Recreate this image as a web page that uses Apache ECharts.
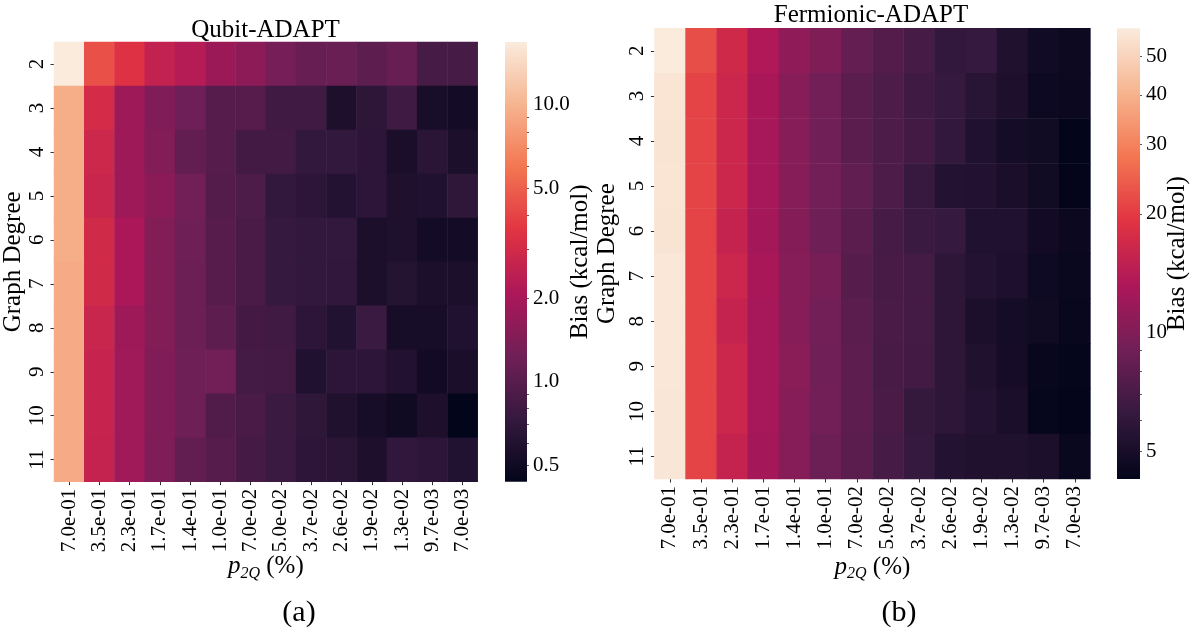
<!DOCTYPE html>
<html><head><meta charset="utf-8">
<script src="https://cdn.jsdelivr.net/npm/echarts@6/dist/echarts.min.js"></script>
<style>html,body{margin:0;padding:0;background:#fff}#c{width:1195px;height:631px}</style>
</head><body><div id="c"></div>
<script>
const FONT = "'Liberation Serif', 'Times New Roman', serif";

const pLabels = ['7.0e-01','3.5e-01','2.3e-01','1.7e-01','1.4e-01','1.0e-01','7.0e-02','5.0e-02','3.7e-02','2.6e-02','1.9e-02','1.3e-02','9.7e-03','7.0e-03'];
const degrees = ['2','3','4','5','6','7','8','9','10','11'];

// Qubit-ADAPT bias (kcal/mol), rows = graph degree 2..11, cols = p2Q
const qubitBias = [
  [16.88, 4.41, 3.41, 2.58, 2.27, 1.81, 1.58, 1.29, 1.14, 1.16, 1.05, 1.14, 0.85, 0.85],
  [9.5, 3.08, 1.82, 1.42, 1.23, 0.98, 0.99, 0.82, 0.82, 0.577, 0.68, 0.80, 0.548, 0.52],
  [9.5, 2.85, 1.82, 1.44, 1.09, 0.98, 0.83, 0.83, 0.71, 0.72, 0.67, 0.555, 0.66, 0.566],
  [9.5, 2.74, 1.83, 1.56, 1.27, 0.966, 0.92, 0.72, 0.67, 0.61, 0.67, 0.583, 0.597, 0.69],
  [9.5, 2.97, 2.05, 1.44, 1.21, 0.99, 0.873, 0.74, 0.71, 0.72, 0.561, 0.583, 0.52, 0.52],
  [9.27, 2.97, 2.05, 1.44, 1.19, 0.99, 0.89, 0.74, 0.71, 0.70, 0.561, 0.62, 0.56, 0.56],
  [9.27, 2.74, 1.83, 1.44, 1.19, 1.05, 0.835, 0.82, 0.67, 0.605, 0.776, 0.537, 0.537, 0.597],
  [9.27, 2.68, 1.87, 1.42, 1.22, 1.27, 0.84, 0.83, 0.597, 0.67, 0.67, 0.60, 0.515, 0.555],
  [9.27, 2.68, 1.87, 1.42, 1.22, 0.94, 0.89, 0.776, 0.69, 0.59, 0.537, 0.499, 0.577, 0.4355],
  [9.2, 2.63, 1.87, 1.40, 1.09, 0.98, 0.845, 0.776, 0.67, 0.66, 0.577, 0.70, 0.67, 0.605]
];

// Fermionic-ADAPT bias (kcal/mol)
const fermionicBias = [
  [59, 22.3, 16.8, 13.4, 10.9, 9.87, 8.38, 7.52, 6.91, 6.08, 6.21, 5.30, 4.77, 4.56],
  [56.8, 21.0, 16.3, 12.9, 10.35, 9.2, 7.9, 7.26, 6.6, 6.24, 5.63, 5.21, 4.62, 4.53],
  [56, 21.0, 16.3, 12.6, 10.35, 9.08, 7.9, 7.26, 6.73, 6.06, 5.34, 4.87, 4.73, 4.26],
  [56.8, 21.0, 16.3, 12.6, 10.35, 9.2, 8.22, 7.26, 6.28, 5.42, 5.38, 5.07, 4.73, 4.28],
  [56, 21.0, 15.5, 12.45, 10.23, 8.92, 7.85, 6.91, 6.45, 6.24, 5.34, 5.34, 4.81, 4.53],
  [57.5, 21.0, 16.3, 12.9, 10.35, 9.5, 7.66, 6.95, 6.82, 5.89, 5.42, 5.18, 4.66, 4.5],
  [57.5, 21.0, 15.5, 12.6, 10.35, 9.2, 7.85, 7.13, 6.82, 5.89, 5.14, 4.87, 4.68, 4.42],
  [57.5, 21.0, 16.3, 12.6, 10.6, 9.08, 8.0, 6.95, 6.75, 5.84, 5.3, 4.9, 4.46, 4.33],
  [57, 21.0, 16.3, 12.6, 10.35, 9.2, 8.0, 7.1, 6.15, 5.84, 5.42, 5.07, 4.35, 4.28],
  [57, 21.0, 15.5, 12.45, 10.35, 8.81, 7.9, 6.91, 6.24, 5.42, 5.3, 5.3, 5.1, 4.5]
];

const qubitCbarLabels = [0.5, 1, 2, 5, 10];
const qubitCbarMajor = [1, 10];
const qubitCbarMinor = [0.5, 0.6, 0.7, 0.8, 0.9, 2, 3, 4, 5, 6, 7, 8, 9];
const fermCbarLabels = [5, 10, 20, 30, 40, 50];
const fermCbarMajor = [10];
const fermCbarMinor = [5, 6, 7, 8, 9, 20, 30, 40, 50];

const rocket = ['#03051a','#35193e','#701f57','#ad1759','#e13342','#f37651','#f6b48f','#faebdd'];

const panels = [
  { title: 'Qubit-ADAPT', data: qubitBias, labels: qubitCbarLabels, major: qubitCbarMajor, minor: qubitCbarMinor,
    fmt: v => Math.pow(10, v).toFixed(1),
    heat: { left: 53.3, top: 42, width: 424.4, height: 439.7 },
    cbar: { left: 505, top: 42, width: 22, height: 439.7 },
    titleX: 265.5, titleY: 30, yNameGap: 28, cNameGap: 41, xNameGap: 70, sub: '(a)', subX: 299 },
  { title: 'Fermionic-ADAPT', data: fermionicBias, labels: fermCbarLabels, major: fermCbarMajor, minor: fermCbarMinor,
    fmt: v => String(Math.round(Math.pow(10, v))),
    heat: { left: 654.4, top: 28.3, width: 436, height: 450.7 },
    cbar: { left: 1117, top: 28.3, width: 23, height: 450.7 },
    titleX: 871, titleY: 15, yNameGap: 34, cNameGap: 25, xNameGap: 73, sub: '(b)', subX: 899 }
];

const option = { animation: false, grid: [], xAxis: [], yAxis: [], series: [], visualMap: [], graphic: [] };

const gradStops = rocket.map((c, i) => ({ offset: i / (rocket.length - 1), color: c }));

panels.forEach((p, k) => {
  const flat = p.data.flat();
  const vmin = Math.min(...flat), vmax = Math.max(...flat);
  const lmin = Math.log10(vmin), lmax = Math.log10(vmax);
  const gH = option.grid.length;
  option.grid.push(Object.assign({ containLabel: false }, p.heat));
  const gC = option.grid.length;
  option.grid.push(Object.assign({ containLabel: false }, p.cbar));

  const xH = option.xAxis.length;
  option.xAxis.push({
    type: 'category', gridIndex: gH, data: pLabels,
    axisLine: { show: false },
    axisTick: { show: true, alignWithLabel: true, length: 3.5, lineStyle: { color: '#333', width: 1 } },
    axisLabel: { interval: 0, rotate: 90, fontSize: 21, fontFamily: FONT, color: '#000', margin: 7 },
    splitLine: { show: false },
    name: '{i|p}{s|2Q}{n| (%)}', nameLocation: 'middle', nameGap: p.xNameGap, nameMoveOverlap: false,
    nameTextStyle: {
      fontFamily: FONT, fontSize: 24, color: '#000',
      rich: {
        i: { fontFamily: FONT, fontSize: 25, fontStyle: 'italic', color: '#000' },
        s: { fontFamily: FONT, fontSize: 16, fontStyle: 'italic', color: '#000', padding: [14, 0, 0, 0] },
        n: { fontFamily: FONT, fontSize: 25, color: '#000' }
      }
    }
  });
  const xC = option.xAxis.length;
  option.xAxis.push({ type: 'value', gridIndex: gC, min: 0, max: 1, show: false });

  const yH = option.yAxis.length;
  option.yAxis.push({
    type: 'category', gridIndex: gH, data: degrees, inverse: true,
    axisLine: { show: false },
    axisTick: { show: true, alignWithLabel: true, length: 3.5, lineStyle: { color: '#333', width: 1 } },
    axisLabel: { interval: 0, rotate: 90, fontSize: 21, fontFamily: FONT, color: '#000', margin: 6 },
    splitLine: { show: false },
    name: 'Graph Degree', nameLocation: 'middle', nameRotate: 90, nameGap: p.yNameGap, nameMoveOverlap: false,
    nameTextStyle: { fontFamily: FONT, fontSize: 25, color: '#000' }
  });
  const yC1 = option.yAxis.length;
  option.yAxis.push({
    type: 'value', gridIndex: gC, min: lmin, max: lmax, position: 'right',
    axisLine: { show: false }, splitLine: { show: false },
    axisTick: { show: true, length: 3.5, customValues: p.major.map(Math.log10), lineStyle: { color: '#333', width: 1 } },
    axisLabel: { show: true, customValues: p.labels.map(Math.log10), formatter: p.fmt, fontSize: 21, fontFamily: FONT, color: '#000', margin: 6 },
    name: 'Bias (kcal/mol)', nameLocation: 'middle', nameRotate: 90, nameGap: p.cNameGap, nameMoveOverlap: false,
    nameTextStyle: { fontFamily: FONT, fontSize: 25, color: '#000' }
  });
  const yC2 = option.yAxis.length;
  option.yAxis.push({
    type: 'value', gridIndex: gC, min: lmin, max: lmax, position: 'right',
    axisLine: { show: false }, splitLine: { show: false },
    axisTick: { show: true, length: 2, customValues: p.minor.map(Math.log10), lineStyle: { color: '#333', width: 0.8 } },
    axisLabel: { show: false }
  });

  const cells = [];
  p.data.forEach((row, r) => row.forEach((v, c) => cells.push([c, r, v, Math.log10(v)])));
  const sHeat = option.series.length;
  option.series.push({
    type: 'heatmap', xAxisIndex: xH, yAxisIndex: yH, data: cells,
    itemStyle: { borderWidth: 0 }, emphasis: { disabled: true }, progressive: 0
  });
  option.visualMap.push({
    type: 'continuous', show: false, seriesIndex: sHeat, dimension: 3,
    min: lmin, max: lmax, inRange: { color: rocket }
  });
  option.series.push({
    type: 'custom', xAxisIndex: xC, yAxisIndex: yC1, data: [[0, lmin, lmax]],
    renderItem: (params, api) => {
      const a = api.coord([0, api.value(1)]);
      const b = api.coord([1, api.value(2)]);
      return { type: 'rect', shape: { x: a[0], y: b[1], width: b[0] - a[0], height: a[1] - b[1] },
        style: { fill: new echarts.graphic.LinearGradient(0, 1, 0, 0, gradStops) } };
    }
  });

  option.graphic.push({ type: 'text', x: p.titleX, y: p.titleY,
    style: { text: p.title, font: `25px ${FONT}`, fill: '#000', align: 'center', verticalAlign: 'middle' } });
  option.graphic.push({ type: 'text', x: p.subX, y: 613,
    style: { text: p.sub, font: `30px ${FONT}`, fill: '#000', align: 'center', verticalAlign: 'middle' } });
});

const chart = echarts.init(document.getElementById('c'), null, { renderer: 'canvas' });
chart.setOption(option);
</script></body></html>
